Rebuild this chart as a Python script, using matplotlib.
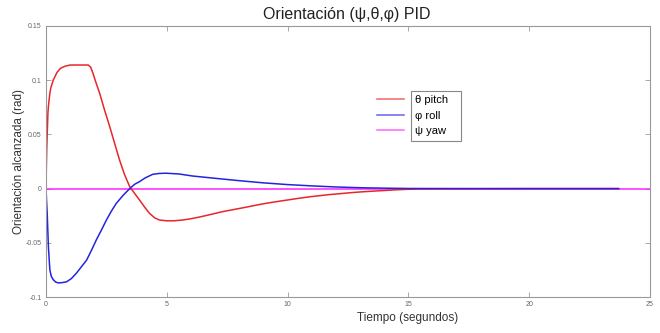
import matplotlib
matplotlib.use("Agg")
import matplotlib.pyplot as plt
from matplotlib.patches import Rectangle

plt.rcParams['font.family'] = ['Liberation Sans', 'DejaVu Sans']

# pitch (theta), time in s, angle in rad
t_pitch = [0, 0.01, 0.03, 0.05, 0.08, 0.1, 0.16, 0.2, 0.3, 0.45, 0.6, 0.8, 1.0,
           1.3, 1.6, 1.75, 1.85, 1.95, 2.05, 2.22, 2.43, 2.64, 2.85, 3.05, 3.25,
           3.46, 3.67, 3.87, 4.08, 4.28, 4.5, 4.7, 5.0, 5.3, 5.65, 6.0, 6.4,
           6.85, 7.3, 7.75, 8.2, 8.65, 9.1, 9.55, 10.0, 10.45, 10.9, 11.3, 11.7,
           12.2, 12.7, 13.2, 13.8, 14.6, 15.4, 20.0, 23.7]
v_pitch = [0, 0.015, 0.036, 0.050, 0.070, 0.076, 0.088, 0.093, 0.100, 0.107,
           0.111, 0.113, 0.114, 0.114, 0.114, 0.114, 0.112, 0.106, 0.099, 0.088,
           0.072, 0.057, 0.041, 0.026, 0.013, 0.002, -0.0045, -0.0105, -0.017,
           -0.0228, -0.027, -0.029, -0.0297, -0.0297, -0.029, -0.0278, -0.026,
           -0.0237, -0.0213, -0.0194, -0.0175, -0.0155, -0.0136, -0.012, -0.0105,
           -0.009, -0.0076, -0.0066, -0.0056, -0.0046, -0.0036, -0.0028, -0.002,
           -0.001, -0.0003, 0, 0]

# roll (phi)
t_roll = [0, 0.02, 0.05, 0.1, 0.16, 0.22, 0.3, 0.4, 0.51, 0.65, 0.85, 1.05,
          1.26, 1.47, 1.68, 1.88, 2.09, 2.3, 2.5, 2.7, 2.91, 3.2, 3.48, 3.67,
          3.87, 4.1, 4.42, 4.7, 4.97, 5.5, 6.07, 7.0, 8.0, 9.0, 10.0, 11.0,
          12.0, 13.0, 14.0, 15.0, 20.0, 23.7]
v_roll = [0, -0.010, -0.023, -0.054, -0.075, -0.081, -0.084, -0.0862, -0.087,
          -0.0868, -0.086, -0.083, -0.078, -0.072, -0.066, -0.057, -0.047,
          -0.038, -0.029, -0.021, -0.0136, -0.006, 0.0003, 0.004, 0.0064,
          0.0098, 0.0132, 0.014, 0.0142, 0.0135, 0.0116, 0.0095, 0.0073, 0.0053,
          0.0037, 0.0025, 0.0015, 0.0008, 0.0004, 0.0001, 0, 0]

# yaw (psi)
t_yaw = [0, 25]
v_yaw = [0, 0]

x_ticks = [0, 5, 10, 15, 20, 25]
y_ticks = [-0.1, -0.05, 0, 0.05, 0.1, 0.15]
y_tick_labels = ['-0.1', '-0.05', '0', '0.05', '0.1', '0.15']

fig = plt.figure(figsize=(6.6, 3.33), dpi=100)
ax = fig.add_axes([46 / 660, 1 - 297 / 333, 604 / 660, 271 / 333])

l1, = ax.plot(t_pitch, v_pitch, color='#e8262a', lw=1.1, label='θ pitch')
l2, = ax.plot(t_roll, v_roll, color='#2424e0', lw=1.1, label='φ roll')
l3, = ax.plot(t_yaw, v_yaw, color='#ff22ff', lw=1.1, label='ψ yaw', zorder=1.9)

ax.set_xlim(0, 25)
ax.set_ylim(-0.1, 0.15)
ax.set_xticks(x_ticks)
ax.set_xticklabels([str(v) for v in x_ticks])
ax.set_yticks(y_ticks)
ax.set_yticklabels(y_tick_labels)
ax.tick_params(direction='in', length=3.5, width=0.6, colors='#999999',
               labelcolor='#666666', labelsize=5, top=True, right=True, pad=3)
for sp in ax.spines.values():
    sp.set_color('#999999')
    sp.set_linewidth(0.8)

fig.text(347 / 660, 1 - 15 / 333, 'Orientación (ψ,θ,φ) PID', fontsize=11.5,
         ha='center', va='center', color='#222222')
fig.text(408 / 660, 1 - 318 / 333, 'Tiempo (segundos)', fontsize=8.5,
         ha='center', va='center', color='#333333')
fig.text(19 / 660, 1 - 162 / 333, 'Orientación alcanzada (rad)', fontsize=8.5,
         ha='center', va='center', rotation=90, color='#333333')

leg = ax.legend(handles=[l1, l2, l3], loc='upper left', frameon=False,
                bbox_to_anchor=(377 / 660, 1 - 95 / 333),
                bbox_transform=fig.transFigure, borderpad=0, borderaxespad=0,
                fontsize=8, handlelength=2.4, handletextpad=1.0,
                labelspacing=0.5)
for h in leg.get_lines():
    h.set_alpha(0.7)
fig.patches.append(Rectangle((411 / 660, 1 - 141 / 333), 50 / 660, 50 / 333,
                             transform=fig.transFigure, fill=False,
                             edgecolor='#888888', lw=0.8))

fig.savefig('out.png', dpi=100, facecolor='white')
